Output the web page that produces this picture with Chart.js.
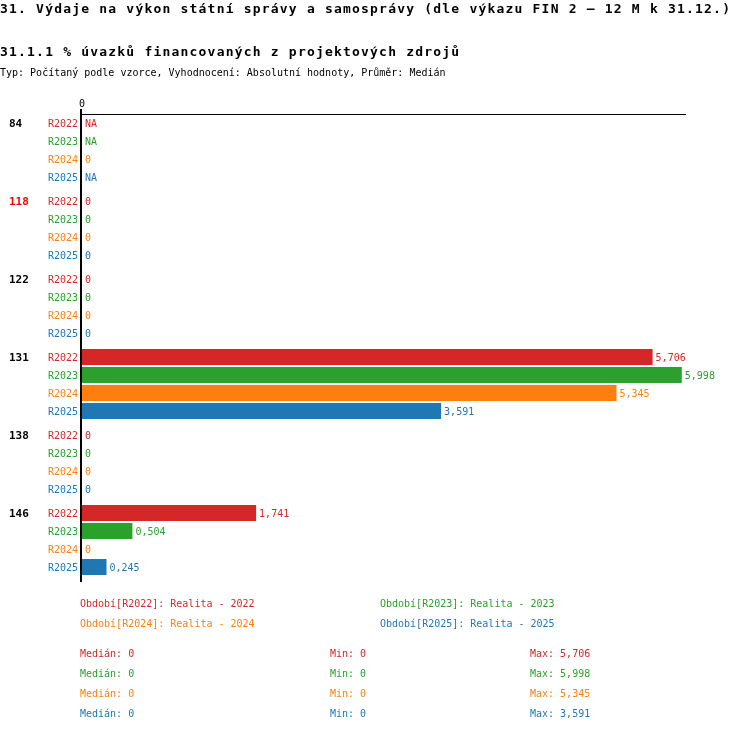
<!DOCTYPE html>
<html lang="cs">
<head>
  <meta charset="UTF-8">
  <title>31.1.1 % úvazků financovaných z projektových zdrojů</title>
  <script src="https://cdn.jsdelivr.net/npm/chart.js"></script>
  <style>
    body { margin: 0; background: #fff; font-family: 'DejaVu Sans Mono', monospace; color: #000; }
    .page { position: relative; width: 750px; height: 732px; overflow: hidden; }
    canvas { position: absolute; left: 0; top: 0; }
    .t { position: absolute; white-space: pre; font-size: 10px; line-height: 12px; }
    .h { font-size: 13px; font-weight: bold; letter-spacing: 1.2px; line-height: 18px; }
  </style>
</head>
<body>
  <div class="page" id="page">
    <canvas id="chart" width="750" height="732"></canvas>
    <div class="t h" style="left:0;top:0">31. Výdaje na výkon státní správy a samosprávy (dle výkazu FIN 2 – 12 M k 31.12.)</div>
    <div class="t h" style="left:0;top:43px">31.1.1 % úvazků financovaných z projektových zdrojů</div>
    <div class="t" style="left:0;top:67px">Typ: Počítaný podle vzorce, Vyhodnocení: Absolutní hodnoty, Průměr: Medián</div>
  </div>

  <script>
    const groups = ['84', '118', '122', '131', '138', '146'];
    const highlight = '118';
    const periods = ['R2022', 'R2023', 'R2024', 'R2025'];
    const years = ['2022', '2023', '2024', '2025'];
    // null = NA
    const r2022 = [null, 0, 0, 5.706, 0, 1.741];
    const r2023 = [null, 0, 0, 5.998, 0, 0.504];
    const r2024 = [0, 0, 0, 5.345, 0, 0];
    const r2025 = [null, 0, 0, 3.591, 0, 0.245];
    const series = [r2022, r2023, r2024, r2025];
    const colors = ['#d62728', '#2ca02c', '#ff7f0e', '#1f77b4'];
    const xTicks = [0];

    const FONT = 'DejaVu Sans Mono';

    function fmt(v) {
      if (v == null) return 'NA';
      if (v === 0) return '0';
      return v.toFixed(3).replace('.', ',');
    }

    function median(arr) {
      const a = arr.filter(v => v != null).sort((p, q) => p - q);
      const m = Math.floor(a.length / 2);
      return a.length % 2 ? a[m] : (a[m - 1] + a[m]) / 2;
    }

    // legend + stats below the chart
    const page = document.getElementById('page');
    periods.forEach((p, i) => {
      const d = document.createElement('div');
      d.className = 't';
      d.style.color = colors[i];
      d.style.left = (i % 2 ? 380 : 80) + 'px';
      d.style.top = (598 + Math.floor(i / 2) * 20) + 'px';
      d.textContent = `Období[${p}]: Realita - ${years[i]}`;
      page.appendChild(d);

      const vals = series[i].filter(v => v != null);
      const cols = [
        [80, 'Medián: ' + fmt(median(vals))],
        [330, 'Min: ' + fmt(Math.min(...vals))],
        [530, 'Max: ' + fmt(Math.max(...vals))]
      ];
      cols.forEach(([left, text]) => {
        const s = document.createElement('div');
        s.className = 't';
        s.style.color = colors[i];
        s.style.left = left + 'px';
        s.style.top = (647.5 + i * 20) + 'px';
        s.textContent = text;
        page.appendChild(s);
      });
    });

    const rowLabels = {
      id: 'rowLabels',
      afterDatasetsDraw(chart) {
        const { ctx, chartArea } = chart;
        ctx.save();
        ctx.textBaseline = 'middle';
        // top axis line
        ctx.strokeStyle = '#000';
        ctx.lineWidth = 1;
        ctx.beginPath();
        ctx.moveTo(chartArea.left - 2, chartArea.top + 3.5);
        ctx.lineTo(chartArea.right, chartArea.top + 3.5);
        ctx.stroke();
        // stretch the value axis a little past the plot
        ctx.lineWidth = 2;
        ctx.beginPath();
        ctx.moveTo(chartArea.left - 1, chartArea.top - 2);
        ctx.lineTo(chartArea.left - 1, chartArea.bottom + 3);
        ctx.stroke();

        chart.data.datasets.forEach((ds, i) => {
          const meta = chart.getDatasetMeta(i);
          meta.data.forEach((bar, j) => {
            const v = ds.data[j];
            const y = bar.y + 1;
            ctx.fillStyle = colors[i];
            ctx.font = `10px "${FONT}"`;
            ctx.textAlign = 'right';
            ctx.fillText(periods[i], chartArea.left - 4, y);
            ctx.textAlign = 'left';
            const x = v == null ? chartArea.left : bar.x;
            ctx.fillText(fmt(v), x + 3, y);
            if (i === 0) {
              ctx.font = `bold 11px "${FONT}"`;
              ctx.fillStyle = groups[j] === highlight ? '#ff0000' : '#000';
              ctx.fillText(groups[j], 9, y);
            }
          });
        });
        ctx.restore();
      }
    };

    new Chart(document.getElementById('chart'), {
      type: 'bar',
      data: {
        labels: groups,
        datasets: series.map((data, i) => ({
          label: periods[i],
          data,
          backgroundColor: colors[i],
          borderWidth: 0,
          categoryPercentage: 72 / 78,
          barPercentage: 16 / 18
        }))
      },
      options: {
        indexAxis: 'y',
        responsive: false,
        animation: false,
        devicePixelRatio: 1,
        layout: { padding: { left: 0, right: 64, top: 0, bottom: 153 } },
        plugins: { legend: { display: false }, tooltip: { enabled: false } },
        scales: {
          x: {
            type: 'linear',
            position: 'top',
            min: 0,
            max: 6.04,
            grid: { display: false, drawTicks: false },
            border: { display: false },
            afterBuildTicks: s => { s.ticks = xTicks.map(value => ({ value })); },
            ticks: { font: { family: FONT, size: 10 }, color: '#000', padding: 1, maxRotation: 0 },
            afterFit: s => { s.height = 111; }
          },
          y: {
            grid: { display: false },
            border: { display: false },
            ticks: { display: false },
            afterFit: s => { s.width = 82; }
          }
        }
      },
      plugins: [rowLabels]
    });
  </script>
</body>
</html>
